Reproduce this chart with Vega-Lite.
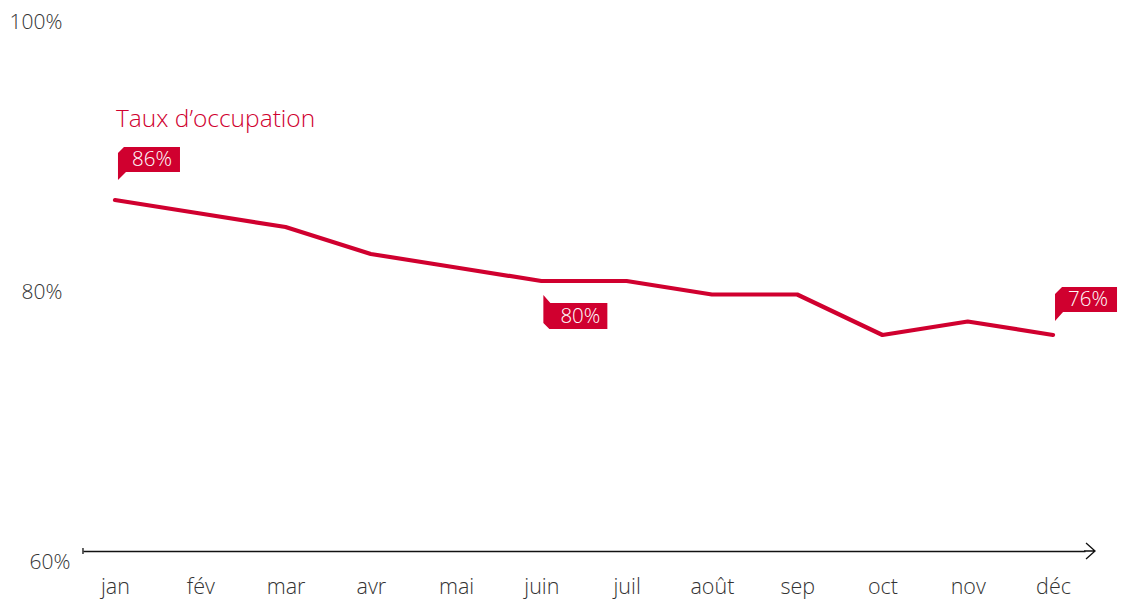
{
  "$schema": "https://vega.github.io/schema/vega-lite/v6.json",
  "width": 1002,
  "height": 540,
  "autosize": {"type": "none"},
  "padding": {"left": 83, "top": 11, "right": 42, "bottom": 50},
  "background": "white",
  "config": {"view": {"stroke": null}, "font": "Open Sans"},
  "data": {"values": [
    {"mois": "jan", "taux": 86},
    {"mois": "fév", "taux": 85},
    {"mois": "mar", "taux": 84},
    {"mois": "avr", "taux": 82},
    {"mois": "mai", "taux": 81},
    {"mois": "juin", "taux": 80},
    {"mois": "juil", "taux": 80},
    {"mois": "août", "taux": 79},
    {"mois": "sep", "taux": 79},
    {"mois": "oct", "taux": 76},
    {"mois": "nov", "taux": 77},
    {"mois": "déc", "taux": 76}
  ]},
  "encoding": {
    "x": {
      "field": "mois", "type": "ordinal", "sort": null,
      "scale": {"type": "point", "padding": 0.375},
      "axis": {
        "title": null, "labelAngle": 0, "ticks": false, "grid": false,
        "domain": true, "domainColor": "#111", "domainWidth": 1.3,
        "labelFontSize": 21.5, "labelColor": "#333", "labelFont": "Open Sans", "labelFontWeight": 300,
        "labelBaseline": "middle", "labelPadding": 36
      }
    },
    "y": {
      "field": "taux", "type": "quantitative",
      "scale": {"domain": [60, 100], "nice": false, "zero": false},
      "axis": {
        "title": null, "values": [60, 80, 100], "grid": false, "domain": false, "ticks": false,
        "labelExpr": "datum.value + '%'",
        "labelFontSize": 21, "labelColor": "#333", "labelFont": "Open Sans", "labelFontWeight": 300,
        "labelBaseline": "middle", "labelOffset": 11,
        "labelPadding": {"condition": {"test": "datum.value == 60", "value": 13}, "value": 21}
      }
    }
  },
  "layer": [
    {"mark": {"type": "line", "color": "#D0002F", "strokeWidth": 4.2, "strokeCap": "round", "strokeJoin": "round"}},
    {
      "transform": [{"filter": "datum.mois == 'jan'"}],
      "mark": {"type": "text", "text": "Taux d’occupation", "color": "#D0002F", "fontSize": 24.5, "fontWeight": 300, "align": "left", "baseline": "middle", "dx": 1, "dy": -80}
    },
    {
      "transform": [{"filter": "datum.mois == 'jan'"}],
      "mark": {"type": "point", "shape": "M 3 -20 L 3 -47 L 9 -53 L 65 -53 L 65 -28 L 11 -28 Z", "size": 4, "filled": true, "color": "#D0002F", "opacity": 1, "strokeWidth": 0}
    },
    {
      "transform": [{"filter": "datum.mois == 'juin'"}],
      "mark": {"type": "point", "shape": "M 2 14 L 9 22 L 66 22 L 66 48 L 8 48 L 2 42 Z", "size": 4, "filled": true, "color": "#D0002F", "opacity": 1, "strokeWidth": 0}
    },
    {
      "transform": [{"filter": "datum.mois == 'déc'"}],
      "mark": {"type": "point", "shape": "M 2 -14 L 2 -41 L 9 -48 L 64 -48 L 64 -23 L 10 -23 Z", "size": 4, "filled": true, "color": "#D0002F", "opacity": 1, "strokeWidth": 0}
    },
    {
      "transform": [{"filter": "datum.mois == 'jan'"}],
      "mark": {"type": "text", "text": {"expr": "datum.taux + '%'"}, "color": "white", "fontSize": 20.5, "fontWeight": 300, "align": "center", "baseline": "middle", "dx": 37, "dy": -40}
    },
    {
      "transform": [{"filter": "datum.mois == 'juin'"}],
      "mark": {"type": "text", "text": {"expr": "datum.taux + '%'"}, "color": "white", "fontSize": 20.5, "fontWeight": 300, "align": "center", "baseline": "middle", "dx": 39, "dy": 36}
    },
    {
      "transform": [{"filter": "datum.mois == 'déc'"}],
      "mark": {"type": "text", "text": {"expr": "datum.taux + '%'"}, "color": "white", "fontSize": 20.5, "fontWeight": 300, "align": "center", "baseline": "middle", "dx": 35, "dy": -35}
    },
    {
      "transform": [{"filter": "datum.mois == 'déc'"}],
      "mark": {"type": "point", "shape": "M 31 0 L 42 0 M 33 -8 L 42 0 L 33 8", "size": 4, "filled": false, "stroke": "#111", "strokeWidth": 1.3, "opacity": 1},
      "encoding": {"y": {"datum": 60}}
    },
    {
      "transform": [{"filter": "datum.mois == 'jan'"}],
      "mark": {"type": "point", "shape": "M -32 -3 L -32 3", "size": 4, "filled": false, "stroke": "#111", "strokeWidth": 1.3, "opacity": 1},
      "encoding": {"y": {"datum": 60}}
    }
  ]
}
